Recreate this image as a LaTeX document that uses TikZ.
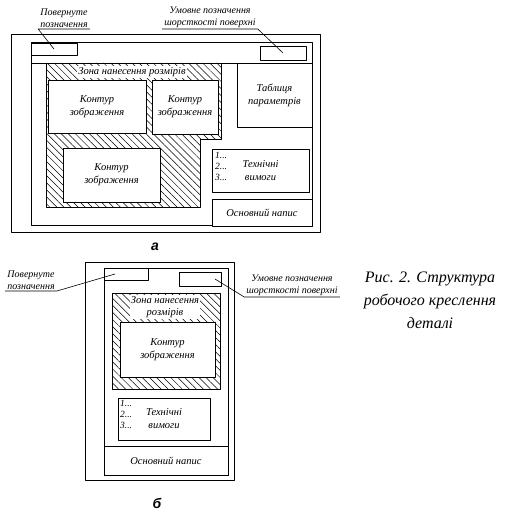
\documentclass[tikz,border=0pt]{standalone}
\usepackage{fontspec}
\setmainfont{Liberation Serif}
\newfontfamily\letterfont{Liberation Sans}
\usetikzlibrary{patterns.meta}

\begin{document}
\begin{tikzpicture}[x=1pt,y=-1pt,line join=bevel,
  frame/.style={draw,line width=1pt},
  box/.style={draw,line width=0.9pt,fill=white,inner sep=0pt,align=center,
    font=\fontsize{10.5}{13}\selectfont\itshape},
  lbl/.style={inner xsep=2pt,inner ysep=1.5pt,align=center,
    font=\fontsize{10}{11.5}\selectfont\itshape},
  zone/.style={draw,line width=0.9pt,
    pattern={Lines[angle=-45,distance=5pt,line width=0.5pt]}},
  zonetext/.style={fill=white,inner sep=1pt,align=center,
    font=\fontsize{10.5}{12}\selectfont\itshape},
  nums/.style={inner sep=0pt,align=left,font=\fontsize{9.5}{11}\selectfont\itshape},
  leader/.style={line width=0.6pt},
  letter/.style={font=\fontsize{14}{14}\letterfont\bfseries\itshape}]
\useasboundingbox (0,0) rectangle (508,518);
%% drawing a
\draw[frame] (11,35) rectangle (320,232);
\draw[frame] (31,43) rectangle (312,226);
\draw[line width=0.9pt] (31,63) -- (312,63);
\draw[zone] (46,63) -- (221,63) -- (221,139) -- (200,139) -- (200,207) -- (46,207) -- cycle;
\node[zonetext] (zonaA) at (132,72) {Зона нанесення розмірів};
\node[box,minimum width=46pt,minimum height=12pt] (pozA) at (54,49) {};
\node[box,minimum width=46pt,minimum height=14pt] (shorA) at (283,53) {};
\node[box,minimum width=75pt,minimum height=64pt] (tablA) at (274.5,95) {Таблиця\\параметрів};
\node[box,minimum width=98pt,minimum height=53pt] (kontA1) at (97,106.5) {Контур\\зображення};
\node[box,minimum width=66pt,minimum height=54pt] (kontA2) at (185,107) {Контур\\зображення};
\node[box,minimum width=97pt,minimum height=54pt] (kontA3) at (111.5,175) {Контур\\зображення};
\node[box,minimum width=97pt,minimum height=43pt] (tekhA) at (260.5,170.5) {Технічні\\вимоги};
\node[nums,anchor=west] (numA) at (215,166) {1...\\2...\\3...};
\node[box,minimum width=100pt,minimum height=27pt] (osnA) at (262,212.5) {Основний напис};
\node[letter] (letA) at (155,247) {а};
%
\node[lbl,anchor=south] (povA) at (64,29) {Повернуте\\позначення};
\node[lbl,anchor=south] (umA) at (210,29) {Умовне позначення\\шорсткості поверхні};
\draw[leader] (povA.south east) -- (povA.south west) -- (pozA.center);
\draw[leader] (umA.south west) -- (umA.south east) -- (shorA.center);
%% drawing b
\draw[frame] (85,262) rectangle (234,480);
\draw[frame] (104,268) rectangle (228,475);
\draw[zone] (112,293) rectangle (220,389);
\node[zonetext] (zonaB) at (165,307) {Зона нанесення\\розмірів};
\node[box,minimum width=44pt,minimum height=12pt] (pozB) at (126,274) {};
\node[box,minimum width=42pt,minimum height=14pt] (shorB) at (200,279) {};
\node[box,minimum width=95pt,minimum height=55pt] (kontB) at (167.5,349.5) {Контур\\зображення};
\node[box,minimum width=92pt,minimum height=42pt] (tekhB) at (164,419) {Технічні\\вимоги};
\node[nums,anchor=west] (numB) at (120,414) {1...\\2...\\3...};
\node[box,minimum width=124pt,minimum height=29pt] (osnB) at (166,460.5) {Основний напис};
\node[letter] (letB) at (157,503) {б};
%
\node[lbl,anchor=south] (povB) at (31,291) {Повернуте\\позначення};
\node[lbl,anchor=south] (umB) at (292,297) {Умовне позначення\\шорсткості поверхні};
\draw[leader] (povB.south west) -- (povB.south east) -- ([xshift=-11pt]pozB.center);
\draw[leader] (umB.south east) -- (umB.south west) -- ([xshift=15pt]shorB.center);
%% caption
\node[align=center,font=\fontsize{16}{23}\selectfont\itshape] (capt) at (430,300)
  {Рис. 2. Структура\\робочого креслення\\деталі};
%
\end{tikzpicture}
\end{document}
